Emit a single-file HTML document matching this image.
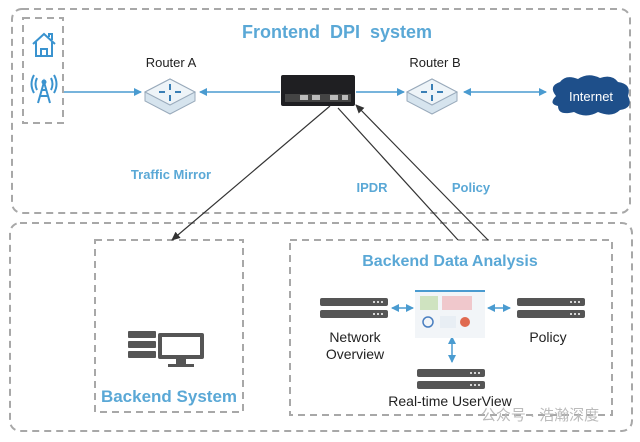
<!DOCTYPE html>
<html><head><meta charset="utf-8"><style>
body{margin:0;background:#fff;}
svg{display:block;font-family:"Liberation Sans","Noto Sans CJK SC",sans-serif;}
</style></head><body>
<svg width="640" height="442" viewBox="0 0 640 442">
<defs>
<marker id="ab" markerWidth="8" markerHeight="8" refX="7" refY="4" orient="auto" markerUnits="userSpaceOnUse"><path d="M0,0 L8,4 L0,8 Z" fill="#4a9bd0"/></marker>
<marker id="ak" markerWidth="9" markerHeight="8" refX="8" refY="4" orient="auto" markerUnits="userSpaceOnUse"><path d="M0,0 L9,4 L0,8 Z" fill="#333"/></marker>
<marker id="abs" markerWidth="8" markerHeight="8" refX="1" refY="4" orient="auto" markerUnits="userSpaceOnUse"><path d="M8,0 L0,4 L8,8 Z" fill="#4a9bd0"/></marker>
</defs>
<g fill="none" stroke="#a8a8a8" stroke-width="2" stroke-dasharray="7,5">
<rect x="12" y="9" width="618" height="204" rx="10"/>
<rect x="23" y="18" width="40" height="105"/>
<rect x="10" y="223" width="622" height="208" rx="10"/>
<rect x="95" y="240" width="148" height="172"/>
<rect x="290" y="240" width="322" height="175"/>
</g>
<text x="337" y="38" text-anchor="middle" font-size="18" font-weight="bold" fill="#5aa8d6" word-spacing="5">Frontend DPI system</text>
<g stroke="#3a93cf" stroke-width="2" fill="none">
<path d="M33,44 L44,34 L55,44 M36,42 V56 H52 V42 M41,56 V49 H47 V56"/>
<path d="M49,37 V34 H52 V40"/>
<path d="M38,103 L44,82 L50,103 M40,96 H48 M41,90 H47"/>
<path d="M37,78 Q34,84 37,90 M51,78 Q54,84 51,90 M34,75 Q29,84 34,93 M54,75 Q59,84 54,93"/>
</g>
<circle cx="44" cy="82" r="2.5" fill="#3a93cf"/>
<text x="171" y="67" text-anchor="middle" font-size="13" fill="#222">Router A</text>
<text x="435" y="67" text-anchor="middle" font-size="13" fill="#222">Router B</text>
<g id="rt">
<path d="M145,92 L170,79 L195,92 L195,101 L170,114 L145,101 Z" fill="#d6e4ee" stroke="#9ab" stroke-width="1"/>
<path d="M145,92 L170,79 L195,92 L170,105 Z" fill="#eef4f8" stroke="#9ab" stroke-width="1"/>
<path d="M170,84 V90 M170,95 V101 M159,92 H165 M175,92 H181" stroke="#3a7fb5" stroke-width="2"/>
</g>
<use href="#rt" x="262"/>
<rect x="281" y="75" width="74" height="31" rx="2" fill="#1f1f22"/>
<rect x="285" y="94" width="66" height="8" fill="#444"/>
<rect x="300" y="95" width="8" height="5" fill="#bbb"/><rect x="312" y="95" width="8" height="5" fill="#bbb"/><rect x="330" y="95" width="8" height="5" fill="#bbb"/><rect x="342" y="95" width="6" height="5" fill="#bbb"/>
<path d="M556,96 Q548,86 560,82 Q566,74 578,79 Q588,72 600,78 Q612,74 618,82 Q632,84 628,96 Q634,108 620,110 Q612,118 598,112 Q586,119 574,112 Q558,116 558,106 Q548,104 556,96 Z" fill="#1e4f8a"/>
<text x="591" y="101" text-anchor="middle" font-size="13" fill="#fff">Internet</text>
<g stroke="#4a9bd0" stroke-width="1.5" fill="none">
<line x1="64" y1="92" x2="141" y2="92" marker-end="url(#ab)"/>
<line x1="280" y1="92" x2="200" y2="92" marker-end="url(#ab)"/>
<line x1="356" y1="92" x2="404" y2="92" marker-end="url(#ab)"/>
<line x1="464" y1="92" x2="546" y2="92" marker-end="url(#ab)" marker-start="url(#abs)"/>
<line x1="392" y1="308" x2="413" y2="308" marker-end="url(#ab)" marker-start="url(#abs)"/>
<line x1="488" y1="308" x2="510" y2="308" marker-end="url(#ab)" marker-start="url(#abs)"/>
<line x1="452" y1="337" x2="452" y2="362" marker-end="url(#ab)" marker-start="url(#abs)"/>
</g>
<g stroke="#333" stroke-width="1.2">
<line x1="330" y1="106" x2="172" y2="240" marker-end="url(#ak)"/>
<line x1="338" y1="108" x2="458" y2="240"/>
<line x1="488" y1="240" x2="356" y2="105" marker-end="url(#ak)"/>
</g>
<g font-size="13" font-weight="bold" fill="#5aa8d6">
<text x="171" y="179" text-anchor="middle">Traffic Mirror</text>
<text x="372" y="192" text-anchor="middle">IPDR</text>
<text x="471" y="192" text-anchor="middle">Policy</text>
</g>
<g fill="#555">
<rect x="128" y="331" width="28" height="7" rx="1"/><rect x="128" y="341" width="28" height="7" rx="1"/><rect x="128" y="351" width="28" height="7" rx="1"/>
<rect x="158" y="333" width="46" height="26" rx="2"/>
<rect x="176" y="359" width="10" height="5"/><rect x="168" y="364" width="26" height="3"/>
</g>
<rect x="162" y="337" width="38" height="18" fill="#fff"/>
<text x="169" y="402" text-anchor="middle" font-size="17" font-weight="bold" fill="#5aa8d6">Backend System</text>
<text x="450" y="266" text-anchor="middle" font-size="16" font-weight="bold" fill="#5aa8d6">Backend Data Analysis</text>
<g id="sv" fill="#555">
<rect x="320" y="298" width="68" height="8" rx="2"/><rect x="320" y="310" width="68" height="8" rx="2"/>
<circle cx="374" cy="302" r="1" fill="#fff"/><circle cx="378" cy="302" r="1" fill="#fff"/><circle cx="382" cy="302" r="1" fill="#fff"/>
<circle cx="374" cy="314" r="1" fill="#fff"/><circle cx="378" cy="314" r="1" fill="#fff"/><circle cx="382" cy="314" r="1" fill="#fff"/>
</g>
<use href="#sv" x="197"/>
<use href="#sv" x="97" y="71"/>
<rect x="415" y="290" width="70" height="48" fill="#f2f5f8"/>
<rect x="415" y="290" width="70" height="2" fill="#4a9bd0"/>
<rect x="420" y="296" width="18" height="14" fill="#cfe3c0"/>
<rect x="442" y="296" width="30" height="14" fill="#f0c8cc"/>
<circle cx="428" cy="322" r="5" fill="none" stroke="#4a7fc0" stroke-width="1.5"/>
<rect x="440" y="316" width="16" height="12" fill="#e8eef4"/>
<circle cx="465" cy="322" r="5" fill="#e06a50"/>
<g font-size="14" fill="#222" text-anchor="middle">
<text x="355" y="342">Network</text>
<text x="355" y="359">Overview</text>
<text x="548" y="342">Policy</text>
<text x="450" y="406">Real-time UserView</text>
</g>
<text x="540" y="420" text-anchor="middle" font-size="15" fill="#bbb">公众号 · 浩瀚深度</text>
</svg>
</body></html>
